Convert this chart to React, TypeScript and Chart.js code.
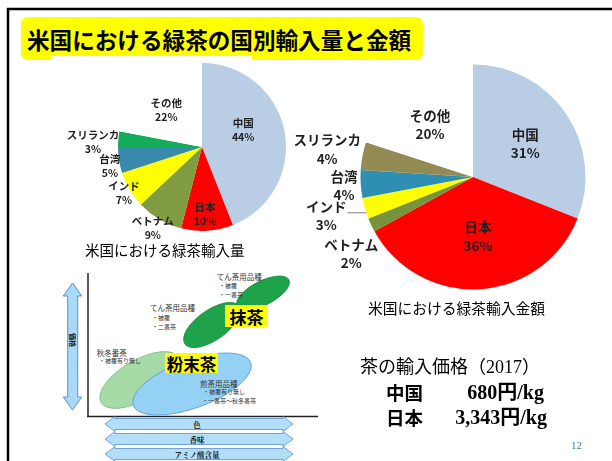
import React, { useEffect, useRef } from "react";
import { Chart, registerables } from "chart.js";

Chart.register(...registerables);

// ---- data ----
const countries = ["中国", "日本", "ベトナム", "インド", "台湾", "スリランカ", "その他"];
const volumeShare = [44, 10, 9, 7, 5, 3, 22]; // 米国における緑茶輸入量 (%)
const valueShare = [31, 36, 2, 3, 4, 4, 20]; // 米国における緑茶輸入金額 (%)
const priceCountries = ["中国", "日本"];
const priceLabels = ["680円/kg", "3,343円/kg"];

// ---- styles ----
const volumeColors = ["#b9cde5", "#ff0000", "#7f9c42", "#ffff00", "#3a8aad", "#12ad58", "#ffffff"];
const valueColors = ["#b9cde5", "#ff0000", "#77933c", "#ffff00", "#2f8fb3", "#948a54", "#ffffff"];
const volumeLabelFactor = [0.53, 0.8, 1.13, 1.08, 1.12, 1.3, 0.61];
const volumeLabelShift = [-11.7, 1, 0.6, 0, -2.7, -2.8, -4.6];
const valueLabelFactor = [0.55, 0.53, 1.28, 1.35, 1.15, 1.32, 0.6];
const valueLabelShift = [1.8, -1.2, -7.1, 1.3, -0.4, 0, -3.6];
const valueLeader = [false, false, false, true, false, false, false];

const CJK = '"Noto Sans CJK JP", "Noto Sans CJK SC", sans-serif';

function makeLabelPlugin(cfg: {
  factor: number[];
  shift: number[];
  font: string;
  gap: number;
  color: string;
  leader?: boolean[];
}) {
  return {
    id: "sliceLabels",
    afterDatasetsDraw(chart: any) {
      const meta = chart.getDatasetMeta(0);
      const ctx = chart.ctx;
      const labels = chart.data.labels;
      const data = chart.data.datasets[0].data;
      ctx.save();
      ctx.font = cfg.font;
      ctx.textAlign = "center";
      ctx.textBaseline = "middle";
      ctx.fillStyle = cfg.color;
      meta.data.forEach((arc: any, i: number) => {
        const p = arc.getProps(["x", "y", "startAngle", "endAngle", "outerRadius"], true);
        const a = (p.startAngle + p.endAngle) / 2 + (cfg.shift[i] * Math.PI) / 180;
        const r = p.outerRadius * cfg.factor[i];
        const lx = p.x + Math.cos(a) * r;
        const ly = p.y + Math.sin(a) * r;
        const y1 = ly - cfg.gap / 2;
        ctx.fillText(String(labels[i]), lx, y1);
        ctx.fillText(data[i] + "%", lx, ly + cfg.gap / 2);
        if (cfg.leader && cfg.leader[i]) {
          const w = ctx.measureText(String(labels[i])).width;
          const yl = y1 + 6;
          const dy = yl - p.y;
          const xe = p.x - Math.sqrt(Math.max(p.outerRadius * p.outerRadius - dy * dy, 0));
          ctx.strokeStyle = "#7f7f7f";
          ctx.lineWidth = 1;
          ctx.beginPath();
          ctx.moveTo(lx + w / 2 + 1, yl);
          ctx.lineTo(xe, yl);
          ctx.stroke();
        }
      });
      ctx.restore();
    },
  };
}

function PieChart(props: {
  left: number;
  top: number;
  width: number;
  height: number;
  padding: { left: number; right: number; top: number; bottom: number };
  values: number[];
  colors: string[];
  plugin: any;
}) {
  const ref = useRef<HTMLCanvasElement>(null);
  useEffect(() => {
    if (!ref.current) return;
    const chart = new Chart(ref.current, {
      type: "pie",
      data: {
        labels: countries,
        datasets: [
          {
            data: props.values,
            backgroundColor: props.colors,
            borderWidth: 0,
            hoverOffset: 0,
          },
        ],
      },
      options: {
        responsive: false,
        animation: false,
        events: [],
        layout: { padding: props.padding },
        plugins: { legend: { display: false }, tooltip: { enabled: false }, title: { display: false } },
      },
      plugins: [props.plugin],
    });
    return () => chart.destroy();
  }, []);
  return (
    <canvas
      ref={ref}
      width={props.width}
      height={props.height}
      style={{ position: "absolute", left: props.left, top: props.top, width: props.width, height: props.height }}
    />
  );
}

function Diagram() {
  const hArrow = (cy: number) =>
    `M105,${cy} L115,${cy - 7.5} L115,${cy - 5.5} L283,${cy - 5.5} L283,${cy - 7.5} L293,${cy} L283,${cy + 7.5} L283,${cy + 5.5} L115,${cy + 5.5} L115,${cy + 7.5} Z`;
  const small = { fontFamily: CJK, fill: "#333" } as any;
  return (
    <svg width={612} height={461} style={{ position: "absolute", left: 0, top: 0 }}>
      {/* slide frame */}
      <line x1={7} y1={9} x2={612} y2={9} stroke="#000" strokeWidth={2.5} />
      <line x1={8} y1={8} x2={8} y2={461} stroke="#000" strokeWidth={2.5} />
      {/* vertical arrow */}
      <path
        d="M72.5,283 L81.7,296 L77.7,296 L77.7,397 L81.7,397 L72.5,410 L63.3,397 L67.7,397 L67.7,296 L63.3,296 Z"
        fill="#a9d9f7"
        stroke="#5b8fd0"
        strokeWidth={1}
      />
      <text x={73} y={340} transform="rotate(90 73 340)" textAnchor="middle" dominantBaseline="central" fontSize={7} fontWeight="bold" fontFamily={CJK} fill="#222">
        価格
      </text>
      {/* axes */}
      <line x1={88} y1={273} x2={88} y2={417} stroke="#222" strokeWidth={1.5} />
      <line x1={87} y1={416.5} x2={318} y2={416.5} stroke="#222" strokeWidth={1.5} />
      {/* ellipses */}
      <ellipse cx={140} cy={380} rx={45} ry={20} transform="rotate(-30 140 380)" fill="#a6dba8" stroke="#7cbf80" strokeWidth={0.8} />
      <ellipse cx={192} cy={384} rx={62.5} ry={24} transform="rotate(-20 192 384)" fill="#95d1f5" stroke="#5a9bd5" strokeWidth={0.8} />
      <ellipse cx={212} cy={325} rx={33} ry={15} transform="rotate(-35 212 325)" fill="#1ea24a" stroke="#168a3a" strokeWidth={0.8} />
      <ellipse cx={263} cy={293} rx={29} ry={12} transform="rotate(-27 263 293)" fill="#1ea24a" stroke="#168a3a" strokeWidth={0.8} />
      {/* labels */}
      <rect x={225} y={305} width={43} height={22} fill="#ffff00" />
      <text x={246.5} y={316.5} textAnchor="middle" dominantBaseline="central" fontSize={17} fontWeight="bold" fontFamily={CJK} fill="#000">
        抹茶
      </text>
      <rect x={165} y={353} width={53} height={20} fill="#ffff00" />
      <text x={191.5} y={363.5} textAnchor="middle" dominantBaseline="central" fontSize={16.5} fontWeight="bold" fontFamily={CJK} fill="#000">
        粉末茶
      </text>
      <g dominantBaseline="central" {...small}>
        <text x={216.7} y={276.7} fontSize={7.5}>てん茶用品種</text>
        <text x={219} y={285.7} fontSize={6}>・被覆</text>
        <text x={219} y={294.3} fontSize={6}>・一番茶</text>
        <text x={150} y={307.7} fontSize={7.5}>てん茶用品種</text>
        <text x={152} y={317.3} fontSize={6}>・被覆</text>
        <text x={152} y={326} fontSize={6}>・二番茶</text>
        <text x={96.7} y={352.7} fontSize={7.5}>秋冬番茶</text>
        <text x={99} y={360.5} fontSize={6}>・被覆有り無し</text>
        <text x={200} y={383.3} fontSize={7.5}>煎茶用品種</text>
        <text x={203} y={391.7} fontSize={6}>・被覆有り無し</text>
        <text x={202} y={400.3} fontSize={6}>・一番茶～秋冬番茶</text>
      </g>
      {/* horizontal arrows */}
      {[424, 439, 454].map((cy) => (
        <path key={cy} d={hArrow(cy)} fill="#b3def7" stroke="#5b8fd0" strokeWidth={0.8} />
      ))}
      <g textAnchor="middle" dominantBaseline="central" fontSize={7.5} fontWeight="bold" fontFamily='"Noto Serif CJK JP", "Liberation Serif", serif' fill="#111">
        <text x={197} y={424.5}>色</text>
        <text x={197} y={439.5}>香味</text>
        <text x={197} y={454.5}>アミノ酸含量</text>
      </g>
    </svg>
  );
}

export default function App() {
  const volumePlugin = makeLabelPlugin({
    factor: volumeLabelFactor,
    shift: volumeLabelShift,
    font: `bold 10.5px ${CJK}`,
    gap: 14.5,
    color: "#1f1f1f",
  });
  const valuePlugin = makeLabelPlugin({
    factor: valueLabelFactor,
    shift: valueLabelShift,
    font: `bold 13.5px ${CJK}`,
    gap: 18.5,
    color: "#1f1f1f",
    leader: valueLeader,
  });
  return (
    <div
      style={{
        position: "fixed",
        left: 0,
        top: 0,
        width: 612,
        height: 461,
        background: "#fff",
        overflow: "hidden",
        fontFamily: CJK,
      }}
    >
      <Diagram />
      {/* title */}
      <div
        style={{
          position: "absolute",
          left: 21,
          top: 17,
          width: 402,
          height: 43,
          background: "#ffff00",
          borderRadius: 7,
          boxSizing: "border-box",
          paddingLeft: 6,
          lineHeight: "46px",
          fontSize: 22.6,
          fontWeight: "bold",
          color: "#000",
          whiteSpace: "nowrap",
        }}
      >
        米国における緑茶の国別輸入量と金額
      </div>
      <div style={{ position: "absolute", left: 52, top: 56, width: 200, height: 5, background: "#fff" }} />
      {/* pies */}
      <PieChart
        left={55}
        top={56}
        width={245}
        height={200}
        padding={{ left: 63, top: 7, right: 14, bottom: 25 }}
        values={volumeShare}
        colors={volumeColors}
        plugin={volumePlugin}
      />
      <PieChart
        left={290}
        top={60}
        width={322}
        height={240}
        padding={{ left: 70.5, top: 4.5, right: 26.5, bottom: 10.5 }}
        values={valueShare}
        colors={valueColors}
        plugin={valuePlugin}
      />
      {/* captions */}
      <div style={{ position: "absolute", left: 85, top: 240, fontSize: 14.5, lineHeight: "20px", color: "#000", whiteSpace: "nowrap" }}>
        米国における緑茶輸入量
      </div>
      <div style={{ position: "absolute", left: 368, top: 298, fontSize: 14.75, lineHeight: "20px", color: "#000", whiteSpace: "nowrap" }}>
        米国における緑茶輸入金額
      </div>
      {/* price block */}
      <div
        style={{
          position: "absolute",
          left: 360,
          top: 354,
          fontSize: 18,
          lineHeight: "26px",
          fontFamily: `"Liberation Serif", ${CJK}`,
          color: "#000",
          whiteSpace: "nowrap",
        }}
      >
        茶の輸入価格（2017）
      </div>
      {priceCountries.map((c, i) => (
        <React.Fragment key={c}>
          <div
            style={{
              position: "absolute",
              left: 386,
              top: 379 + i * 25,
              fontSize: 18.5,
              lineHeight: "26px",
              fontWeight: "bold",
              color: "#000",
            }}
          >
            {c}
          </div>
          <div
            style={{
              position: "absolute",
              left: 420,
              width: i === 0 ? 124 : 127,
              top: 379 + i * 25,
              fontSize: 20,
              lineHeight: "26px",
              fontWeight: "bold",
              textAlign: "right",
              fontFamily: `"Liberation Serif", ${CJK}`,
              color: "#000",
              whiteSpace: "nowrap",
            }}
          >
            {priceLabels[i]}
          </div>
        </React.Fragment>
      ))}
      <div
        style={{
          position: "absolute",
          left: 571,
          top: 438,
          fontSize: 11,
          lineHeight: "14px",
          fontFamily: '"Liberation Serif", serif',
          color: "#3a7ca5",
        }}
      >
        12
      </div>
    </div>
  );
}
